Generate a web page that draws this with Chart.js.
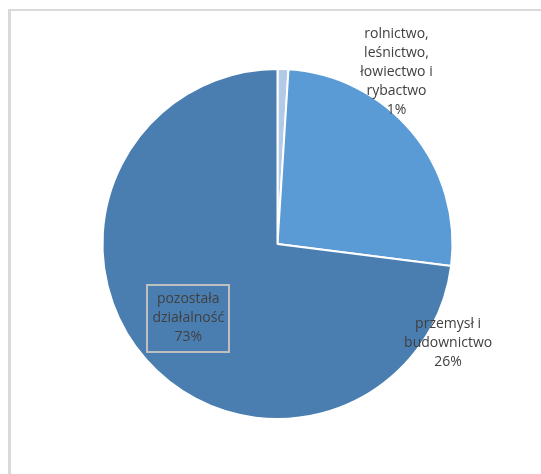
<!DOCTYPE html>
<html>
<head>
<meta charset="utf-8">
<script src="https://cdn.jsdelivr.net/npm/chart.js@4/dist/chart.umd.min.js"></script>
<style>
  html, body { margin: 0; padding: 0; background: #fff; }
  canvas { display: block; }
</style>
</head>
<body>
<canvas id="c" width="541" height="474"></canvas>
<script>
// dane wykresu
const kategorie = [
  ['rolnictwo,', 'leśnictwo,', 'łowiectwo i', 'rybactwo'],
  ['przemysł i', 'budownictwo'],
  ['pozostała', 'działalność']
];
const udzialy = [1, 26, 73];
const kolory = ['#b2c9e8', '#5b9bd5', '#4a7eb1'];

// ramka wykresu (szara linia u góry i z lewej)
const ramka = {
  id: 'ramka',
  beforeDraw(chart) {
    const ctx = chart.ctx;
    ctx.save();
    ctx.fillStyle = '#fff';
    ctx.fillRect(0, 0, chart.width, chart.height);
    ctx.fillStyle = '#d9d9d9';
    ctx.fillRect(8, 9, chart.width - 8, 2);
    ctx.fillRect(8, 9, 3, chart.height - 9);
    ctx.restore();
  }
};

// etykiety danych w stylu Excela
const etykiety = {
  id: 'etykiety',
  afterDraw(chart) {
    const ctx = chart.ctx;
    const arcs = chart.getDatasetMeta(0).data;
    const cx = arcs[0].x, cy = arcs[0].y, r = arcs[0].outerRadius;
    // środki etykiet względem środka koła (w promieniach)
    const poz = [
      { x: cx + r * 0.68,  y: cy - r * 0.98 },
      { x: cx + r * 0.975, y: cy + r * 0.566 },
      { x: cx - r * 0.51,  y: cy + r * 0.425 }
    ];
    const lh = 19;
    ctx.save();
    ctx.font = '14px "Open Sans", sans-serif';
    ctx.fillStyle = '#404040';
    ctx.textAlign = 'center';
    ctx.textBaseline = 'middle';
    kategorie.forEach((linie, i) => {
      const tekst = linie.concat([udzialy[i] + '%']);
      const p = poz[i];
      const y0 = p.y - (tekst.length - 1) * lh / 2;
      if (i === 2) {
        let w = 0;
        tekst.forEach(t => { w = Math.max(w, ctx.measureText(t).width); });
        w += 10;
        const h = tekst.length * lh + 10;
        ctx.strokeStyle = '#bfbfbf';
        ctx.lineWidth = 2;
        ctx.strokeRect(Math.round(p.x - w / 2), Math.round(p.y - h / 2), Math.round(w), Math.round(h));
      }
      tekst.forEach((t, j) => ctx.fillText(t, p.x, y0 + j * lh));
    });
    ctx.restore();
  }
};

new Chart(document.getElementById('c'), {
  type: 'pie',
  data: {
    labels: kategorie.map(l => l.join(' ')),
    datasets: [{
      data: udzialy,
      backgroundColor: kolory,
      borderColor: '#ffffff',
      borderWidth: 2
    }]
  },
  options: {
    responsive: false,
    animation: false,
    layout: { padding: { left: 101, right: 87, top: 68, bottom: 54 } },
    plugins: {
      legend: { display: false },
      tooltip: { enabled: false }
    }
  },
  plugins: [ramka, etykiety]
});
</script>
</body>
</html>
